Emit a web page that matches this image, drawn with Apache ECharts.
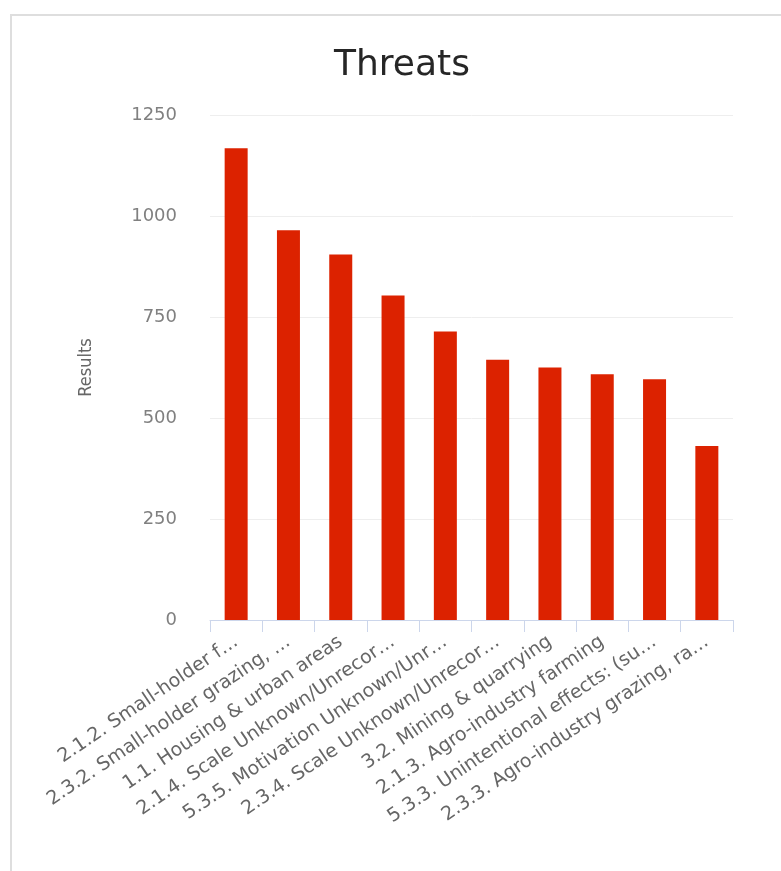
<!DOCTYPE html>
<html>
<head>
<meta charset="utf-8">
<title>Threats</title>
<script src="https://cdn.jsdelivr.net/npm/echarts@6/dist/echarts.min.js"></script>
<style>
  html, body { margin: 0; padding: 0; background: #ffffff; }
  #chart { width: 781px; height: 871px; }
</style>
</head>
<body>
<div id="chart"></div>
<script>
// Threat categories (labels as shown on the axis) and their result counts
const categories = [
  '2.1.2. Small-holder f…',
  '2.3.2. Small-holder grazing, …',
  '1.1. Housing & urban areas',
  '2.1.4. Scale Unknown/Unrecor…',
  '5.3.5. Motivation Unknown/Unr…',
  '2.3.4. Scale Unknown/Unrecor…',
  '3.2. Mining & quarrying',
  '2.1.3. Agro-industry farming',
  '5.3.3. Unintentional effects: (su…',
  '2.3.3. Agro-industry grazing, ra…'
];
const results = [1168, 965, 905, 803, 714, 644, 625, 608, 596, 431];

const yMin = 0;
const yMax = 1250;
const yStep = 250;

const chart = echarts.init(document.getElementById('chart'), null, { renderer: 'canvas' });

chart.setOption({
  backgroundColor: '#ffffff',
  animation: false,
  title: {
    text: 'Threats',
    left: 397,
    top: 43,
    textAlign: 'center',
    textStyle: {
      fontFamily: 'DejaVu Sans',
      fontSize: 36,
      fontWeight: 'normal',
      color: '#262626'
    }
  },
  graphic: [
    // card outline: left and top edges
    {
      type: 'polyline',
      silent: true,
      shape: { points: [[11, 871], [11, 15], [781, 15]] },
      style: { stroke: '#dedede', lineWidth: 2, fill: null }
    }
  ],
  grid: {
    left: 210,
    right: 48,
    top: 115,
    bottom: 251
  },
  xAxis: {
    type: 'category',
    data: categories,
    boundaryGap: true,
    axisLine: { show: true, lineStyle: { color: '#ccd6eb', width: 1 } },
    axisTick: { show: true, alignWithLabel: false, length: 12, lineStyle: { color: '#ccd6eb' } },
    axisLabel: {
      interval: 0,
      rotate: 34,
      margin: 20,
      fontFamily: 'DejaVu Sans',
      fontSize: 19,
      color: '#666666'
    }
  },
  yAxis: {
    type: 'value',
    min: yMin,
    max: yMax,
    interval: yStep,
    name: 'Results',
    nameLocation: 'middle',
    nameGap: 115,
    nameTextStyle: {
      fontFamily: 'DejaVu Sans Condensed',
      fontSize: 18,
      color: '#666666'
    },
    axisLine: { show: false },
    axisTick: { show: false },
    axisLabel: {
      margin: 33,
      fontFamily: 'DejaVu Sans',
      fontSize: 18,
      color: '#808080',
      formatter: (v) => String(v)
    },
    splitLine: { show: true, lineStyle: { color: '#eeeeee', width: 1 } }
  },
  series: [
    {
      type: 'bar',
      data: results,
      barWidth: 23,
      itemStyle: { color: '#dc2200' }
    }
  ]
});
</script>
</body>
</html>
